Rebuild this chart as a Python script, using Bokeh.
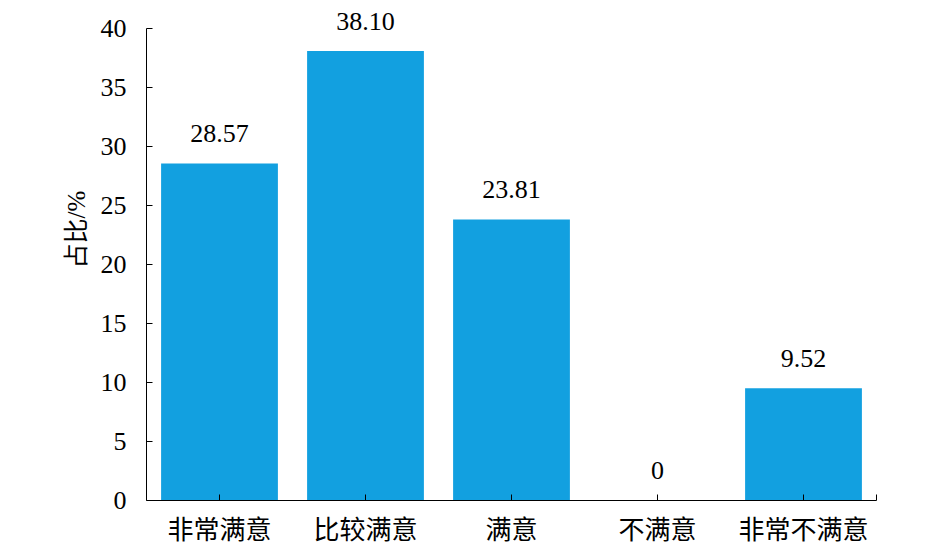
from bokeh.plotting import figure
from bokeh.models import FixedTicker, Range1d, ColumnDataSource, Title
from bokeh.core.properties import value
from bokeh.embed import file_html
from bokeh.resources import INLINE

categories = ["非常满意", "比较满意", "满意", "不满意", "非常不满意"]
values = [28.57, 38.10, 23.81, 0, 9.52]
value_labels = ["28.57", "38.10", "23.81", "0", "9.52"]
y_ticks = [0, 5, 10, 15, 20, 25, 30, 35, 40]
y_min, y_max = 0, 40

xpos = [i + 0.5 for i in range(len(categories))]
src = ColumnDataSource(dict(x=xpos, top=values, lab=value_labels))

SERIF = "'Times New Roman', 'Liberation Serif', serif"
CJK = "'Times New Roman', 'Liberation Serif', 'Noto Sans CJK SC', serif"

p = figure(width=945, height=554, output_backend="svg", toolbar_location=None,
           x_range=Range1d(0, len(categories)), y_range=Range1d(y_min, 42.3),
           min_border_left=146, min_border_right=69, min_border_top=1, min_border_bottom=54)
p.outline_line_color = None
p.xgrid.visible = False
p.ygrid.visible = False

p.vbar(x="x", top="top", width=0.8, bottom=0, source=src, color="#12A0E0", line_color=None)
p.text(x="x", y="top", text="lab", source=src, text_align="center", text_baseline="middle",
       y_offset=-30, text_font=value(SERIF), text_font_size="26px", text_color="black")

xticks = xpos + [len(categories)]
p.xaxis.ticker = FixedTicker(ticks=xticks)
overrides = {x: c for x, c in zip(xpos, categories)}
overrides[len(categories)] = ""
p.xaxis.major_label_overrides = overrides
p.xaxis.major_tick_in = 6
p.xaxis.major_tick_out = 0
p.xaxis.minor_tick_line_color = None
p.xaxis.major_label_text_font = CJK
p.xaxis.major_label_text_font_size = "26px"
p.xaxis.major_label_standoff = 15
p.xaxis.major_label_text_color = "black"

p.yaxis.ticker = FixedTicker(ticks=y_ticks)
p.yaxis.bounds = (y_min, y_max)
p.yaxis.major_tick_in = 6
p.yaxis.major_tick_out = 0
p.yaxis.minor_tick_line_color = None
p.yaxis.major_label_text_font = SERIF
p.yaxis.major_label_text_font_size = "26px"
p.yaxis.major_label_standoff = 20
p.yaxis.major_label_text_color = "black"

for ax in (p.xaxis, p.yaxis):
    ax.axis_line_color = "black"
    ax.major_tick_line_color = "black"

ylab = Title(text="占比/%", align="left", offset=232, standoff=16,
             text_font=CJK, text_font_size="25px", text_font_style="normal",
             text_color="black")
p.add_layout(ylab, "left")

open("out.html", "w").write(file_html(p, INLINE))
